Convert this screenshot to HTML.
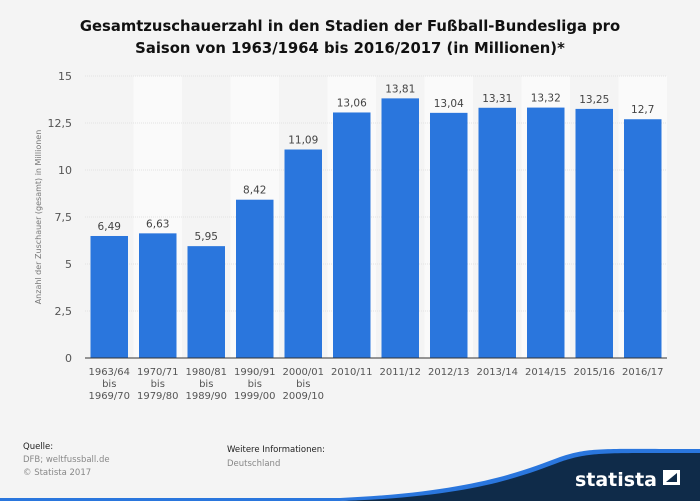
<!DOCTYPE html>
<html><head><meta charset="utf-8"><style>
body{margin:0;width:700px;height:501px;background:#f4f4f4;font-family:"DejaVu Sans","Liberation Sans",sans-serif;overflow:hidden;position:relative}
.t{position:absolute;left:0;width:700px;top:16px;text-align:center;font-weight:bold;font-size:14.8px;line-height:22px;color:#111}
</style></head><body>
<div class="t">Gesamtzuschauerzahl in den Stadien der Fußball-Bundesliga pro<br>Saison von 1963/1964 bis 2016/2017 (in Millionen)*</div>
<svg id="c" width="700" height="501" style="position:absolute;left:0;top:0;font-family:'DejaVu Sans','Liberation Sans',sans-serif"></svg>
<div style="position:absolute;left:23px;top:441px;font-size:8.5px;color:#222;line-height:13px">Quelle:<br><span style="color:#888">DFB; weltfussball.de<br>© Statista 2017</span></div>
<div style="position:absolute;left:227px;top:443px;font-size:8.5px;color:#222;line-height:14px">Weitere Informationen:<br><span style="color:#888">Deutschland</span></div>
<script>
const categories=[["1963/64","bis","1969/70"],["1970/71","bis","1979/80"],["1980/81","bis","1989/90"],["1990/91","bis","1999/00"],["2000/01","bis","2009/10"],["2010/11"],["2011/12"],["2012/13"],["2013/14"],["2014/15"],["2015/16"],["2016/17"]];
const values=[6.49,6.63,5.95,8.42,11.09,13.06,13.81,13.04,13.31,13.32,13.25,12.7];
const labels=["6,49","6,63","5,95","8,42","11,09","13,06","13,81","13,04","13,31","13,32","13,25","12,7"];
const ticks=[0,2.5,5,7.5,10,12.5,15];
const tickLabels=["0","2,5","5","7,5","10","12,5","15"];
const NS="http://www.w3.org/2000/svg",svg=document.getElementById('c');
const x0=85,x1=667,y0=358,y1=76,ymax=15;
const bw=(x1-x0)/categories.length;
const Y=v=>y0-(v/ymax)*(y0-y1);
const X=i=>x0+i*bw;
function mk(t,a,p){const e=document.createElementNS(NS,t);for(const k in a)e.setAttribute(k,a[k]);(p||svg).appendChild(e);return e;}
categories.forEach((c,i)=>{if(i%2==1){const r=mk('rect',{x:X(i),y:y1,width:bw,height:y0-y1,fill:'#fafafa'});

}});
ticks.forEach((t,i)=>{if(t>0){const l=mk('line',{x1:x0,x2:x1,y1:Y(t),y2:Y(t),stroke:'#e2e2e2','stroke-width':1,'stroke-dasharray':'1,1'});

}
const tx=mk('text',{x:72,y:Y(t)+4,'text-anchor':'end','font-size':11,fill:'#555'});tx.textContent=tickLabels[i];

});
values.forEach((v,i)=>{const b=mk('rect',{x:X(i)+5.5,y:Y(v),width:bw-11,height:y0-Y(v),fill:'#2a76dd'});


const l=mk('text',{x:X(i)+bw/2,y:Y(v)-6,'text-anchor':'middle','font-size':10.5,fill:'#444'});l.textContent=labels[i];


categories[i].forEach((s,j)=>{const t=mk('text',{x:X(i)+bw/2,y:375+j*12,'text-anchor':'middle','font-size':10,fill:'#555'});t.textContent=s;

});});
const ax=mk('line',{x1:x0,x2:x1,y1:y0,y2:y0,stroke:'#333','stroke-width':1});


const yt=mk('text',{x:0,y:0,transform:'translate(41,217) rotate(-90)','text-anchor':'middle','font-size':8,fill:'#777'});yt.textContent='Anzahl der Zuschauer (gesamt) in Millionen';


const w=mk('path',{d:'M340,501 C470,495 520,475 560,460 C590,450 600,452 700,452 L700,501 Z',fill:'#0f2b49'});


const bl=mk('path',{d:'M0,498 L340,498 C470,492 520,472 560,457 C590,447 600,449 700,449 L700,453 C600,453 590,452 560,462 C520,477 470,497 340,501 L0,501 Z',fill:'#2a76dd'});


const lg=mk('text',{x:657,y:486,'text-anchor':'end','font-size':19,'font-weight':'bold',fill:'#fff'});lg.textContent='statista';


const ic=mk('path',{d:'M663,470 L680,470 L680,485 L663,485 Z M666,482 L677,473 L677,482 Z',fill:'#fff','fill-rule':'evenodd'});


</script>
</body></html>
